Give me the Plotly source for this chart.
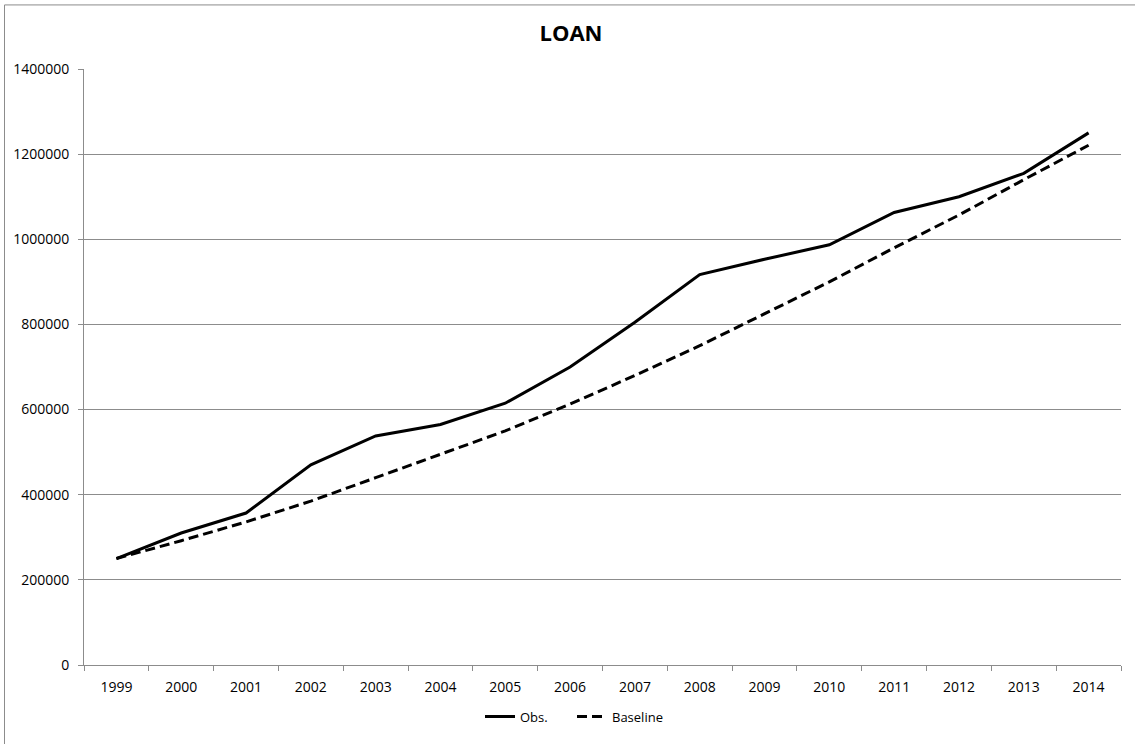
import plotly.graph_objects as go

# Annual loan totals, 1999-2014
years = [str(y) for y in range(1999, 2015)]
obs = [250000, 310000, 357000, 470000, 538000, 565000, 615000, 700000,
       805000, 917000, 953000, 987000, 1063000, 1100000, 1155000, 1250000]
baseline = [250000, 292000, 336000, 385000, 440000, 495000, 550000, 613000,
            680000, 750000, 825000, 900000, 980000, 1057000, 1140000, 1221000]
y_ticks = [0, 200000, 400000, 600000, 800000, 1000000, 1200000, 1400000]

FONT = "Open Sans, Liberation Sans, sans-serif"
GRID = "#8c8c8c"

fig = go.Figure()
fig.add_trace(go.Scatter(x=years, y=obs, name="Obs.", mode="lines",
                         line=dict(color="black", width=3)))
fig.add_trace(go.Scatter(x=years, y=baseline, name="Baseline", mode="lines",
                         line=dict(color="black", width=3, dash="10px,5px")))

W, H = 1135, 744
ml, mr, mt, mb = 84, 14, 69, 75
pw, ph = W - ml - mr, H - mt - mb

fig.update_layout(
    width=W, height=H,
    margin=dict(l=ml, r=mr, t=mt, b=mb),
    paper_bgcolor="white", plot_bgcolor="white",
    font=dict(family=FONT, size=14, color="black"),
    title=dict(text="<b>LOAN</b>", x=571 / W, xanchor="center",
               y=1 - 33 / H, yanchor="middle",
               font=dict(family=FONT, size=22, color="black")),
    showlegend=True,
    legend=dict(orientation="h", x=(572 - ml) / pw, xanchor="center",
                y=-(721 - (H - mb)) / ph, yanchor="middle",
                font=dict(family=FONT, size=13), bgcolor="rgba(0,0,0,0)",
                itemwidth=30, tracegroupgap=0,
                entrywidth=47, entrywidthmode="pixels"),
    xaxis=dict(type="category", range=[-0.5, len(years) - 0.5],
               showgrid=False, showline=True,
               linecolor=GRID, linewidth=1, ticks="outside",
               tickson="boundaries", ticklen=5, tickcolor=GRID,
               ticklabelstandoff=9,
               tickfont=dict(family=FONT, size=14), fixedrange=True),
    yaxis=dict(range=[0, 1400000], tickvals=y_ticks,
               ticktext=[str(v) for v in y_ticks],
               showgrid=True, gridcolor=GRID, gridwidth=1,
               showline=True, linecolor=GRID, linewidth=1,
               ticks="outside", ticklen=5, tickcolor=GRID,
               ticklabelstandoff=6,
               zeroline=False, tickfont=dict(family=FONT, size=14),
               fixedrange=True),
)

# Chart-area frame: only its left and top edges fall inside the page
frame_x = (4.5 - ml) / pw
frame_y = 1 + (mt - 4.5) / ph
for x0, y0, x1, y1 in [(frame_x, frame_y, frame_x, -1.0),
                       (frame_x, frame_y, 1.5, frame_y)]:
    fig.add_shape(type="line", xref="paper", yref="paper",
                  x0=x0, y0=y0, x1=x1, y1=y1,
                  line=dict(color=GRID, width=1), layer="below")

fig.write_html("out.html")
